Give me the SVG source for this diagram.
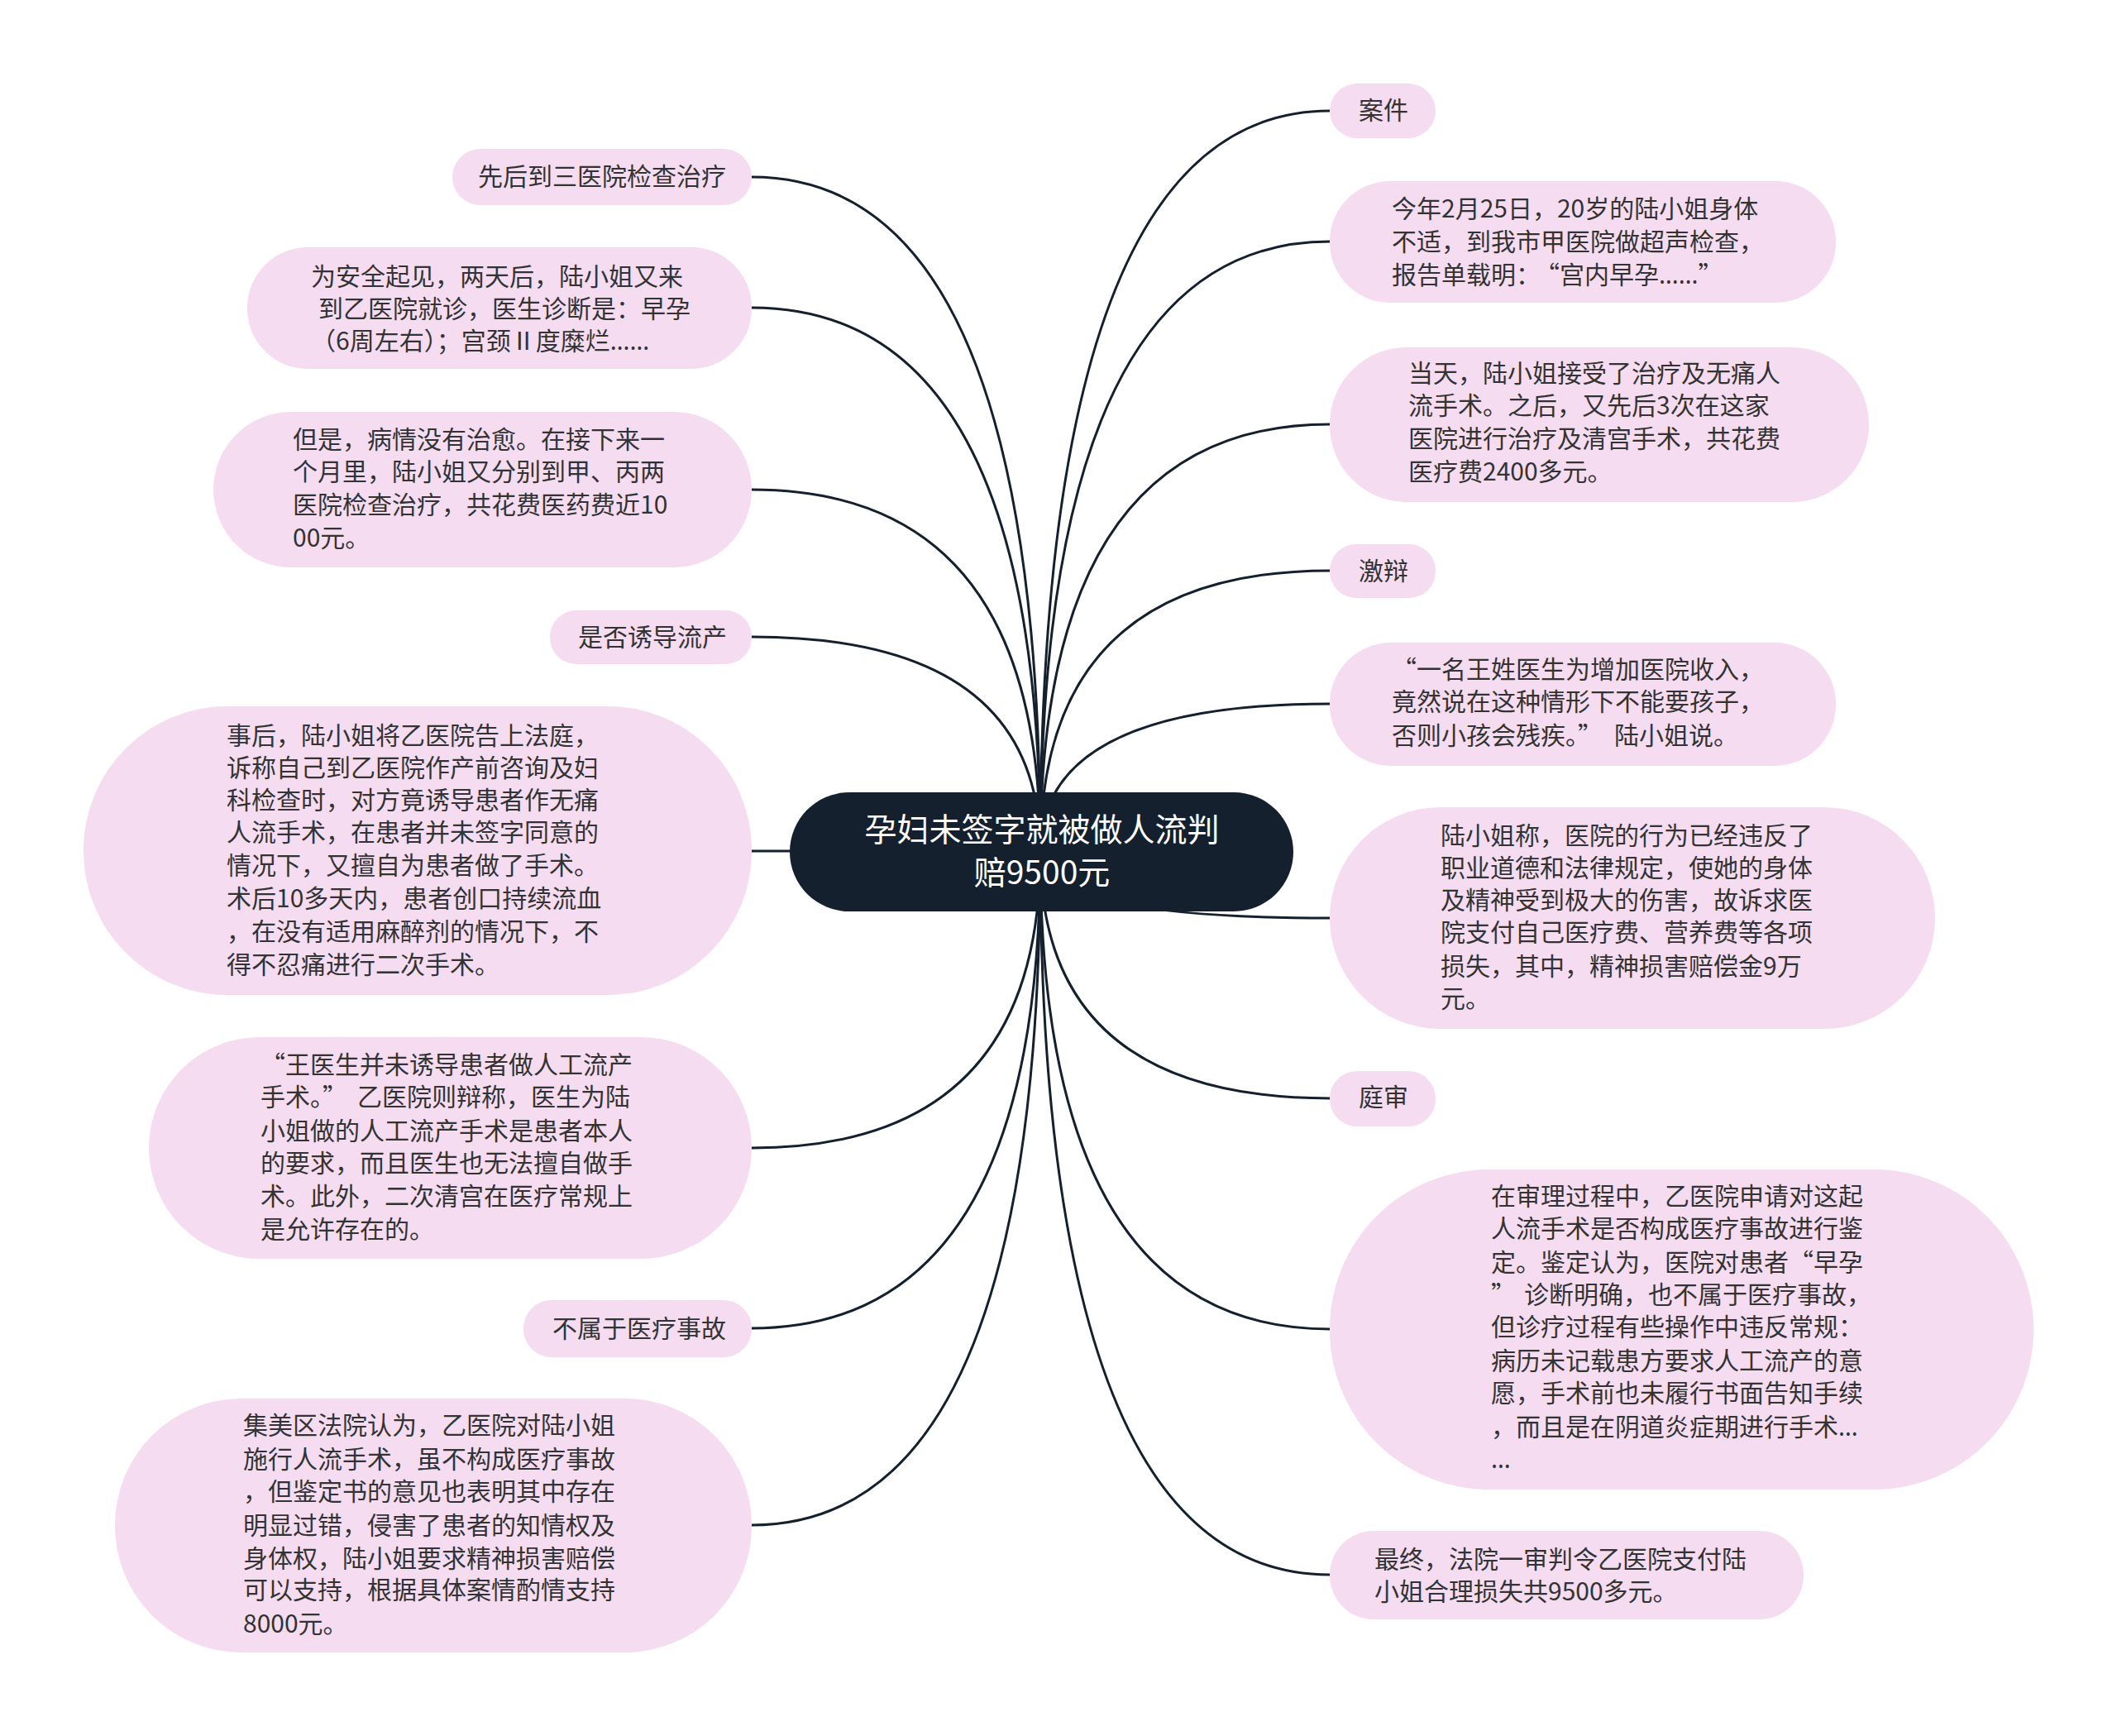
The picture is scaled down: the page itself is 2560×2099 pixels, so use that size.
<svg xmlns="http://www.w3.org/2000/svg" width="2560" height="2099" viewBox="0 0 2560 2099">
<style>
.leaf{fill:#f5dcf0}
.root{fill:#15202e}
.t{font-family:"Noto Sans CJK SC","Noto Sans",sans-serif;font-size:30px;fill:#333333}
.rt{font-family:"Noto Sans CJK SC","Noto Sans",sans-serif;font-size:39px;fill:#ffffff;text-anchor:middle}
.q{font-feature-settings:"fwid" 1}
.e{font-family:"Noto Sans","DejaVu Sans",sans-serif}
.c{fill:none;stroke:#15202e;stroke-width:3}
</style>
<rect width="2560" height="2099" fill="#ffffff"/>
<g id="connectors">
<path class="c" d="M1258 1030 Q1258 134 1608 134"/>
<path class="c" d="M1258 1030 Q1258 292 1608 292"/>
<path class="c" d="M1258 1030 Q1258 513 1608 513"/>
<path class="c" d="M1258 1030 Q1258 690 1608 690"/>
<path class="c" d="M1258 1030 Q1258 851 1608 851"/>
<path class="c" d="M1258 1030 Q1258 1110 1608 1110"/>
<path class="c" d="M1258 1030 Q1258 1328 1608 1328"/>
<path class="c" d="M1258 1030 Q1258 1607 1608 1607"/>
<path class="c" d="M1258 1030 Q1258 1904 1608 1904"/>
<path class="c" d="M1258 1030 Q1258 214 909 214"/>
<path class="c" d="M1258 1030 Q1258 372 909 372"/>
<path class="c" d="M1258 1030 Q1258 592 909 592"/>
<path class="c" d="M1258 1030 Q1258 770 909 770"/>
<path class="c" d="M1258 1030 Q1258 1029 909 1029"/>
<path class="c" d="M1258 1030 Q1258 1388 909 1388"/>
<path class="c" d="M1258 1030 Q1258 1606 909 1606"/>
<path class="c" d="M1258 1030 Q1258 1844 909 1844"/>
</g>
<g id="root">
<rect class="root" x="955" y="958" width="609" height="144" rx="72"/>
<text class="rt" x="1260" y="1017">孕妇未签字就被做人流判</text>
<text class="rt" x="1260" y="1069">赔9500元</text>
</g>
<g id="n-r1">
<rect class="leaf" x="1608" y="101" width="128" height="66" rx="33"/>
<text class="t" x="1643" y="144">案件</text>
</g>
<g id="n-r2">
<rect class="leaf" x="1608" y="219" width="612" height="147" rx="73"/>
<text class="t" x="1683" y="263">今年2月25日，20岁的陆小姐身体</text>
<text class="t" x="1683" y="303">不适，到我市甲医院做超声检查，</text>
<text class="t" x="1683" y="343">报告单载明：<tspan class="q" dx="8">“</tspan>宫内早孕<tspan class="e">……</tspan><tspan class="q">”</tspan></text>
</g>
<g id="n-r3">
<rect class="leaf" x="1608" y="420" width="652" height="187" rx="93"/>
<text class="t" x="1703" y="462">当天，陆小姐接受了治疗及无痛人</text>
<text class="t" x="1703" y="501">流手术。之后，又先后3次在这家</text>
<text class="t" x="1703" y="541">医院进行治疗及清宫手术，共花费</text>
<text class="t" x="1703" y="581">医疗费2400多元。</text>
</g>
<g id="n-r4">
<rect class="leaf" x="1608" y="658" width="128" height="65" rx="32"/>
<text class="t" x="1643" y="701">激辩</text>
</g>
<g id="n-r5">
<rect class="leaf" x="1608" y="777" width="612" height="149" rx="74"/>
<text class="t" x="1683" y="820"><tspan class="q">“</tspan>一名王姓医生为增加医院收入，</text>
<text class="t" x="1683" y="859">竟然说在这种情形下不能要孩子，</text>
<text class="t" x="1683" y="900">否则小孩会残疾。<tspan class="q">”</tspan><tspan dx="14">陆小姐说。</tspan></text>
</g>
<g id="n-r6">
<rect class="leaf" x="1608" y="976" width="732" height="268" rx="134"/>
<text class="t" x="1742" y="1021">陆小姐称，医院的行为已经违反了</text>
<text class="t" x="1742" y="1060">职业道德和法律规定，使她的身体</text>
<text class="t" x="1742" y="1099">及精神受到极大的伤害，故诉求医</text>
<text class="t" x="1742" y="1138">院支付自己医疗费、营养费等各项</text>
<text class="t" x="1742" y="1179">损失，其中，精神损害赔偿金9万</text>
<text class="t" x="1742" y="1218">元。</text>
</g>
<g id="n-r7">
<rect class="leaf" x="1608" y="1295" width="128" height="67" rx="33"/>
<text class="t" x="1643" y="1337">庭审</text>
</g>
<g id="n-r8">
<rect class="leaf" x="1608" y="1414" width="851" height="387" rx="193"/>
<text class="t" x="1803" y="1457">在审理过程中，乙医院申请对这起</text>
<text class="t" x="1803" y="1496">人流手术是否构成医疗事故进行鉴</text>
<text class="t" x="1803" y="1537">定。鉴定认为，医院对患者<tspan class="q">“</tspan>早孕</text>
<text class="t" x="1803" y="1576"><tspan class="q">”</tspan><tspan dx="10">诊断明确，也不属于医疗事故，</tspan></text>
<text class="t" x="1803" y="1615">但诊疗过程有些操作中违反常规：</text>
<text class="t" x="1803" y="1656">病历未记载患方要求人工流产的意</text>
<text class="t" x="1803" y="1695">愿，手术前也未履行书面告知手续</text>
<text class="t" x="1803" y="1736">，而且是在阴道炎症期进行手术<tspan class="e">…</tspan></text>
<text class="t" x="1803" y="1775"><tspan class="e">…</tspan></text>
</g>
<g id="n-r9">
<rect class="leaf" x="1608" y="1851" width="573" height="107" rx="53"/>
<text class="t" x="1662" y="1896">最终，法院一审判令乙医院支付陆</text>
<text class="t" x="1662" y="1935">小姐合理损失共9500多元。</text>
</g>
<g id="n-l1">
<rect class="leaf" x="547" y="180" width="362" height="68" rx="34"/>
<text class="t" x="578" y="224">先后到三医院检查治疗</text>
</g>
<g id="n-l2">
<rect class="leaf" x="299" y="299" width="610" height="147" rx="73"/>
<text class="t" x="376" y="345">为安全起见，两天后，陆小姐又来</text>
<text class="t" x="385" y="384">到乙医院就诊，医生诊断是：早孕</text>
<text class="t" x="376" y="423">（6周左右）；宫颈Ⅱ度糜烂<tspan class="e">……</tspan></text>
</g>
<g id="n-l3">
<rect class="leaf" x="258" y="498" width="651" height="188" rx="94"/>
<text class="t" x="354" y="542">但是，病情没有治愈。在接下来一</text>
<text class="t" x="354" y="581">个月里，陆小姐又分别到甲、丙两</text>
<text class="t" x="354" y="621">医院检查治疗，共花费医药费近10</text>
<text class="t" x="354" y="661">00元。</text>
</g>
<g id="n-l4">
<rect class="leaf" x="665" y="738" width="244" height="65" rx="32"/>
<text class="t" x="699" y="781">是否诱导流产</text>
</g>
<g id="n-l5">
<rect class="leaf" x="101" y="854" width="808" height="349" rx="174"/>
<text class="t" x="274" y="900">事后，陆小姐将乙医院告上法庭，</text>
<text class="t" x="274" y="939">诉称自己到乙医院作产前咨询及妇</text>
<text class="t" x="274" y="978">科检查时，对方竟诱导患者作无痛</text>
<text class="t" x="274" y="1017">人流手术，在患者并未签字同意的</text>
<text class="t" x="274" y="1057">情况下，又擅自为患者做了手术。</text>
<text class="t" x="274" y="1097">术后10多天内，患者创口持续流血</text>
<text class="t" x="274" y="1137">，在没有适用麻醉剂的情况下，不</text>
<text class="t" x="274" y="1177">得不忍痛进行二次手术。</text>
</g>
<g id="n-l6">
<rect class="leaf" x="180" y="1254" width="729" height="268" rx="134"/>
<text class="t" x="315" y="1298"><tspan class="q">“</tspan>王医生并未诱导患者做人工流产</text>
<text class="t" x="315" y="1337">手术。<tspan class="q">”</tspan><tspan dx="12">乙医院则辩称，医生为陆</tspan></text>
<text class="t" x="315" y="1378">小姐做的人工流产手术是患者本人</text>
<text class="t" x="315" y="1417">的要求，而且医生也无法擅自做手</text>
<text class="t" x="315" y="1457">术。此外，二次清宫在医疗常规上</text>
<text class="t" x="315" y="1497">是允许存在的。</text>
</g>
<g id="n-l7">
<rect class="leaf" x="633" y="1572" width="276" height="69" rx="34"/>
<text class="t" x="668" y="1617">不属于医疗事故</text>
</g>
<g id="n-l8">
<rect class="leaf" x="139" y="1691" width="770" height="307" rx="153"/>
<text class="t" x="294" y="1734">集美区法院认为，乙医院对陆小姐</text>
<text class="t" x="294" y="1775">施行人流手术，虽不构成医疗事故</text>
<text class="t" x="294" y="1814">，但鉴定书的意见也表明其中存在</text>
<text class="t" x="294" y="1855">明显过错，侵害了患者的知情权及</text>
<text class="t" x="294" y="1895">身体权，陆小姐要求精神损害赔偿</text>
<text class="t" x="294" y="1933">可以支持，根据具体案情酌情支持</text>
<text class="t" x="294" y="1974">8000元。</text>
</g>
</svg>
